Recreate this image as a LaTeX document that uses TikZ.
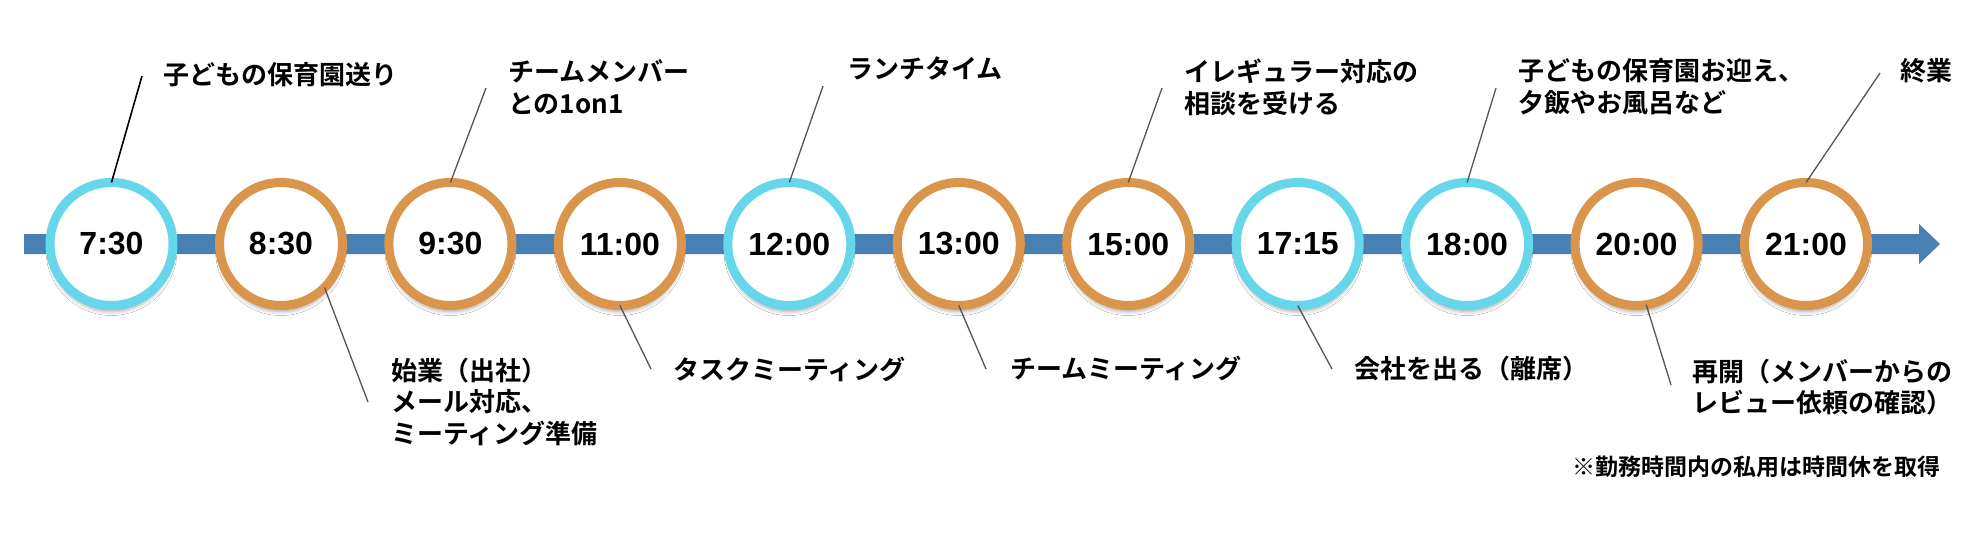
\documentclass[tikz,border=0pt]{standalone}
\usepackage{fontspec}
\newfontfamily\jpfont{Noto Sans CJK JP Bold}
\newfontfamily\timefont{Liberation Sans Bold}
\usetikzlibrary{shadows.blur}
\definecolor{ringcyan}{HTML}{66D6EB}
\definecolor{ringorange}{HTML}{D9954B}
\definecolor{barblue}{HTML}{4880B3}
\definecolor{leadgray}{HTML}{555555}
\begin{document}
\begin{tikzpicture}[x=1pt,y=-1pt,
  tcirc/.style={circle, minimum size=123pt, inner sep=0pt, outer sep=0pt, line width=9pt, fill=white,
    font=\timefont\fontsize{32}{32}\selectfont,
    blur shadow={shadow xshift=0pt, shadow yshift=-6pt, shadow blur radius=4pt, shadow opacity=35}},
  cyanc/.style={tcirc, draw=ringcyan},
  orangec/.style={tcirc, draw=ringorange},
  lbl/.style={anchor=base west, inner sep=0pt, font=\jpfont\fontsize{26}{26}\selectfont},
  note/.style={anchor=base west, inner sep=0pt, font=\jpfont\fontsize{23}{23}\selectfont},
  lead/.style={draw=leadgray, line width=1.3pt},
]
\useasboundingbox (0,0) rectangle (1988,540);
\fill[white] (0,0) rectangle (1988,540);
% timeline bar
\fill[barblue] (24,234) -- (1919,234) -- (1919,224) -- (1940,244) -- (1919,264) -- (1919,254) -- (24,254) -- cycle;
% circles
\node[cyanc]   (c0)  at (111.5,244)  {7:30};
\node[orangec] (c1)  at (281,244)    {8:30};
\node[orangec] (c2)  at (450.4,244)  {9:30};
\node[orangec] (c3)  at (619.9,244)  {11:00};
\node[cyanc]   (c4)  at (789.3,244)  {12:00};
\node[orangec] (c5)  at (958.8,244)  {13:00};
\node[orangec] (c6)  at (1128.2,244) {15:00};
\node[cyanc]   (c7)  at (1297.7,244) {17:15};
\node[cyanc]   (c8)  at (1467.1,244) {18:00};
\node[orangec] (c9)  at (1636.6,244) {20:00};
\node[orangec] (c10) at (1806,244)   {21:00};
% top labels
\node[lbl] (t0)  at (163,85)   {子どもの保育園送り};
\node[lbl] (t1a) at (508,82)   {チームメンバー};
\node[lbl] (t1b) at (508,114)  {との1on1};
\node[lbl] (t2)  at (847,79)   {ランチタイム};
\node[lbl] (t3a) at (1184,82)  {イレギュラー対応の};
\node[lbl] (t3b) at (1184,114) {相談を受ける};
\node[lbl] (t4a) at (1518,81)  {子どもの保育園お迎え、};
\node[lbl] (t4b) at (1518,113) {夕飯やお風呂など};
\node[lbl] (t5)  at (1900,81)  {終業};
% bottom labels
\node[lbl] (b0a) at (391,380)  {始業（出社）};
\node[lbl] (b0b) at (391,411)  {メール対応、};
\node[lbl] (b0c) at (391,443)  {ミーティング準備};
\node[lbl] (b1)  at (673,379)  {タスクミーティング};
\node[lbl] (b2)  at (1010,378) {チームミーティング};
\node[lbl] (b3)  at (1354,378) {会社を出る（離席）};
\node[lbl] (b4a) at (1692,381) {再開（メンバーからの};
\node[lbl] (b4b) at (1692,412) {レビュー依頼の確認）};
\node[note] (fn) at (1572,475) {※勤務時間内の私用は時間休を取得};
% leader ends
\coordinate (l0) at (142,76);
\coordinate (l1) at (486,88);
\coordinate (l2) at (823,86);
\coordinate (l3) at (1162,88);
\coordinate (l4) at (1496,88);
\coordinate (l5) at (1880,73);
\coordinate (m0) at (368,402);
\coordinate (m1) at (651,369);
\coordinate (m2) at (986,369);
\coordinate (m3) at (1332,369);
\coordinate (m4) at (1671,385);
% leaders
\draw[lead, draw=black, line width=1.6pt] (c0.north) -- (l0);
\draw[lead] (c2.north) -- (l1);
\draw[lead] (c4.north) -- (l2);
\draw[lead] (c6.north) -- (l3);
\draw[lead] (c8.north) -- (l4);
\draw[lead] (c10.north) -- (l5);
\draw[lead] (c1.-45) -- (m0);
\draw[lead] (c3.south) -- (m1);
\draw[lead] (c5.south) -- (m2);
\draw[lead] (c7.south) -- (m3);
\draw[lead] (c9.-81) -- (m4);
\end{tikzpicture}
\end{document}
